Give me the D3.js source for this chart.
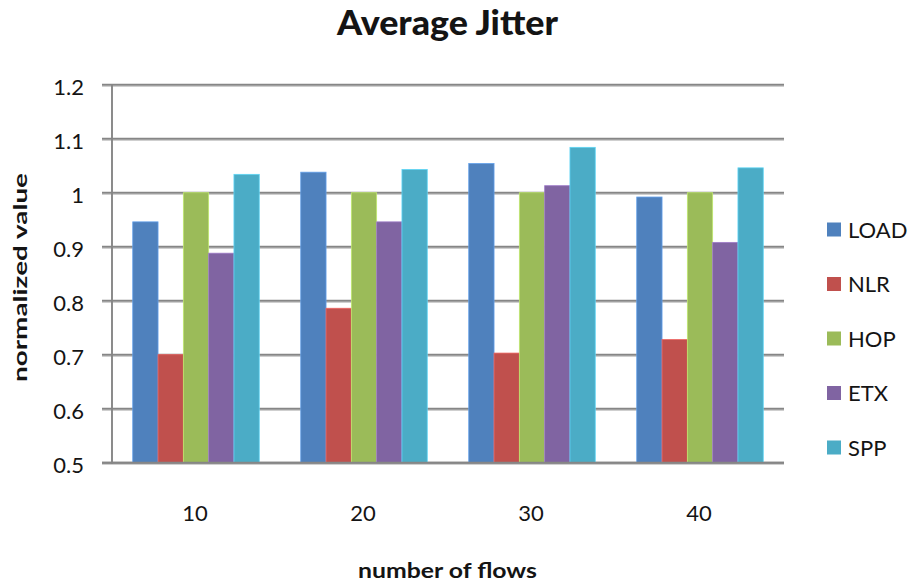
<!DOCTYPE html>
<html>
<head>
<meta charset="utf-8">
<script src="https://cdn.jsdelivr.net/npm/d3@7"></script>
<style>
  html, body { margin: 0; padding: 0; background: #fff; }
  svg { display: block; }
  text { font-family: Lato, "Liberation Sans", sans-serif; fill: #141414; }
</style>
</head>
<body>
<svg id="chart" width="912" height="585"></svg>
<script>
const categories = ["10", "20", "30", "40"];
const seriesNames = ["LOAD", "NLR", "HOP", "ETX", "SPP"];
const LOAD = [0.946, 1.038, 1.054, 0.992];
const NLR  = [0.700, 0.786, 0.703, 0.728];
const HOP  = [1.000, 1.000, 1.000, 1.000];
const ETX  = [0.888, 0.946, 1.013, 0.908];
const SPP  = [1.034, 1.043, 1.084, 1.046];
const yTicks = [0.5, 0.6, 0.7, 0.8, 0.9, 1, 1.1, 1.2];
const yTickLabels = ["0.5", "0.6", "0.7", "0.8", "0.9", "1", "1.1", "1.2"];
const colors = ["#4F81BD", "#C0504D", "#9BBB59", "#8064A2", "#4BACC6"];

const seriesValues = [LOAD, NLR, HOP, ETX, SPP];
const data = categories.map((c, i) => ({
  cat: c,
  vals: seriesNames.map((s, j) => ({ name: s, value: seriesValues[j][i], color: colors[j] }))
}));

const svg = d3.select("#chart");
const plotLeft = 112, plotRight = 784, plotTop = 84.7, plotBottom = 462.7;

const y = d3.scaleLinear().domain([0.5, 1.2]).range([plotBottom, plotTop]);
const x0 = d3.scaleBand().domain(categories).range([plotLeft, plotRight]).paddingInner(0).paddingOuter(0);
const x1 = d3.scaleBand().domain(seriesNames).range([0, x0.bandwidth()]).paddingInner(0).paddingOuter(0.82);

// gridlines (with soft shadow)
const grid = svg.append("g");
grid.selectAll("line.shadow").data(yTicks).join("line")
  .attr("class", "shadow")
  .attr("x1", plotLeft - 10).attr("x2", plotRight)
  .attr("y1", d => y(d) + 1.6).attr("y2", d => y(d) + 1.6)
  .attr("stroke", "#cfcfcf").attr("stroke-width", 1.3);
grid.selectAll("line.main").data(yTicks).join("line")
  .attr("class", "main")
  .attr("x1", plotLeft - 10).attr("x2", plotRight)
  .attr("y1", d => y(d)).attr("y2", d => y(d))
  .attr("stroke", "#868686").attr("stroke-width", 1.9);

// y axis line
svg.append("line").attr("x1", plotLeft).attr("x2", plotLeft).attr("y1", plotTop).attr("y2", plotBottom + 1)
  .attr("stroke", "#868686").attr("stroke-width", 1.9);

// bars
const groups = svg.append("g").selectAll("g").data(data).join("g")
  .attr("transform", d => `translate(${x0(d.cat)},0)`);
groups.selectAll("rect").data(d => d.vals).join("rect")
  .attr("x", d => x1(d.name))
  .attr("width", x1.bandwidth())
  .attr("y", d => y(d.value))
  .attr("height", d => y(0.5) - y(d.value))
  .attr("fill", d => d.color)
  .attr("stroke", d => d3.color(d.color).brighter(0.6))
  .attr("stroke-width", 0.8);

// bottom axis line on top of bars
svg.append("line").attr("x1", plotLeft - 10).attr("x2", plotRight).attr("y1", plotBottom).attr("y2", plotBottom)
  .attr("stroke", "#868686").attr("stroke-width", 1.9);

// y tick labels
svg.append("g").selectAll("text").data(yTicks).join("text")
  .attr("x", 84).attr("y", d => y(d) + 10)
  .attr("text-anchor", "end")
  .attr("font-size", 22)
  .text((d, i) => yTickLabels[i]);

// x tick labels
svg.append("g").selectAll("text").data(categories).join("text")
  .attr("x", d => x0(d) + x0.bandwidth() / 2 - 1)
  .attr("y", 521)
  .attr("text-anchor", "middle")
  .attr("font-size", 22)
  .text(d => d);

// title
svg.append("text").attr("x", 447.5).attr("y", 34.5).attr("text-anchor", "middle")
  .attr("font-size", 34).attr("font-weight", "900")
  .attr("textLength", 221).attr("lengthAdjust", "spacingAndGlyphs")
  .text("Average Jitter");

// y axis title
svg.append("text").attr("transform", "translate(27,277.5) rotate(-90)")
  .attr("text-anchor", "middle").attr("font-size", 19).attr("font-weight", "bold")
  .attr("textLength", 209).attr("lengthAdjust", "spacingAndGlyphs")
  .text("normalized value");

// x axis title
svg.append("text").attr("x", 447.5).attr("y", 577.5).attr("text-anchor", "middle")
  .attr("font-size", 20).attr("font-weight", "bold")
  .attr("textLength", 179).attr("lengthAdjust", "spacingAndGlyphs")
  .text("number of flows");

// legend
const legend = svg.append("g").selectAll("g").data(seriesNames).join("g")
  .attr("transform", (d, i) => `translate(827,${229.5 + i * 54.5})`);
legend.append("rect").attr("x", 0).attr("y", -7).attr("width", 14).attr("height", 14)
  .attr("fill", (d, i) => colors[i]);
legend.append("text").attr("x", 21).attr("y", 8).attr("font-size", 22)
  .text(d => d);
</script>
</body>
</html>
